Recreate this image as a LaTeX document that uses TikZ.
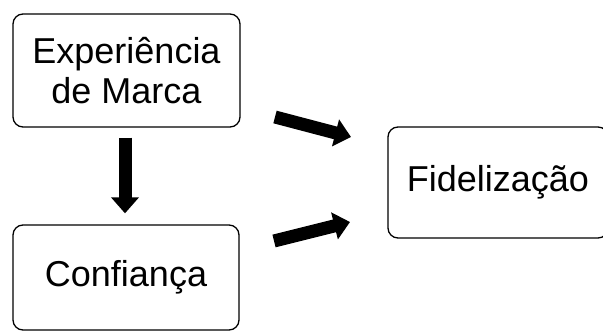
\documentclass[tikz,border=0pt]{standalone}
\usepackage{fontspec}
\setmainfont{Liberation Sans}
\usetikzlibrary{arrows.meta}
\begin{document}
\begin{tikzpicture}[x=1pt,y=-1pt,
  box/.style={draw, line width=1.3pt, rounded corners=10pt, align=center, font=\fontsize{36}{40}\selectfont, inner sep=0pt},
  bigarrow/.style={line width=13pt, -{Triangle[length=16pt,width=27pt]}}]
\useasboundingbox (0,0) rectangle (603,331);
\node[box, minimum width=227pt, minimum height=113pt] (exp) at (126.5,70.5) {Experiência\\de Marca};
\node[box, minimum width=226pt, minimum height=105pt] (conf) at (126,277.5) {Confiança};
\node[box, minimum width=220pt, minimum height=111pt] (fid) at (498,182.5) {Fidelização};
\coordinate (a1s) at (275,117);
\coordinate (a1e) at (351,137);
\coordinate (a2s) at (274,241);
\coordinate (a2e) at (350,222);
\draw[bigarrow] ([xshift=-1.5pt,yshift=-10pt]exp.south) -- ([xshift=-1pt,yshift=11pt]conf.north);
\draw[bigarrow] (a1s) -- (a1e);
\draw[bigarrow] (a2s) -- (a2e);
\end{tikzpicture}
\end{document}
